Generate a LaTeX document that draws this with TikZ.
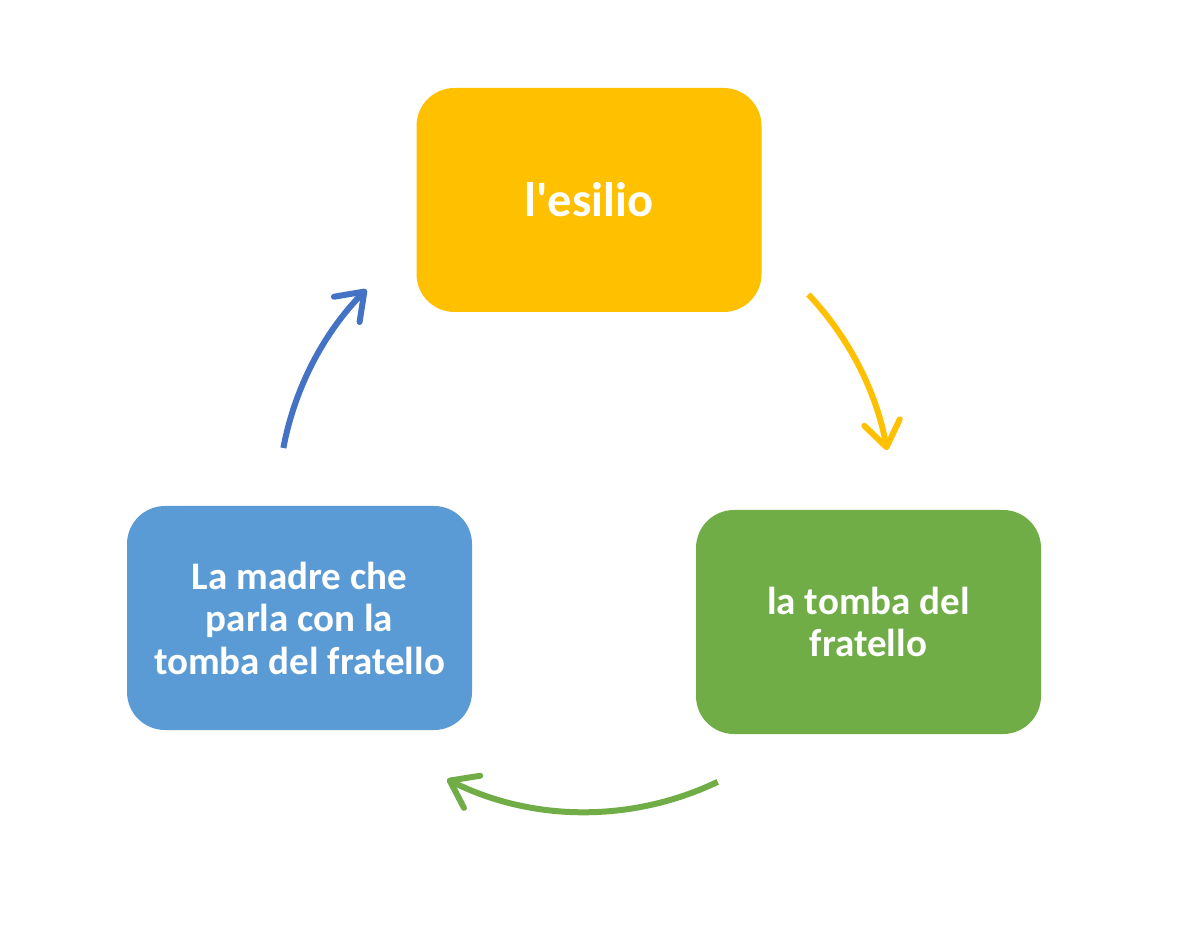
\documentclass[tikz,border=0pt]{standalone}
\usepackage{fontspec}
\setmainfont{Carlito}[Ligatures=TeXOff]
\usetikzlibrary{arrows.meta}
\definecolor{cyellow}{HTML}{FFC000}
\definecolor{cgreen}{HTML}{70AD47}
\definecolor{cblue}{HTML}{5B9BD5}
\definecolor{cbluearrow}{HTML}{4472C4}
\begin{document}
\begin{tikzpicture}[x=1pt,y=1pt,
  cyclebox/.style={rounded corners=38pt, minimum width=345pt, minimum height=224pt,
    inner sep=0pt, align=center, text=white, font=\bfseries\fontsize{39}{42.5}\selectfont},
  cyclearrow/.style={line width=6pt, -{Straight Barb[length=25pt,width=36pt,round]}}]
\useasboundingbox[fill=white] (0,0) rectangle (1196,930);
\node[cyclebox, fill=cyellow, font=\bfseries\fontsize{48.5}{50}\selectfont] (esilio) at (589,730) {l'esilio};
\node[cyclebox, fill=cgreen] (tomba) at (868.5,308) {la tomba del\\fratello};
\node[cyclebox, fill=cblue] (madre) at (299.5,312) {La madre che\\parla con la\\tomba del fratello};
\coordinate (c) at (585,425);
\draw[cyclearrow, draw=cyellow] (c) ++(43.3:307) arc[start angle=43.3, end angle=10.3, radius=307];
\draw[cyclearrow, draw=cgreen] (c) ++(-64.4:307) arc[start angle=-64.4, end angle=-116.7, radius=307];
\draw[cyclearrow, draw=cbluearrow] (c) ++(169.3:307) arc[start angle=169.3, end angle=135.4, radius=307];
\end{tikzpicture}
\end{document}
